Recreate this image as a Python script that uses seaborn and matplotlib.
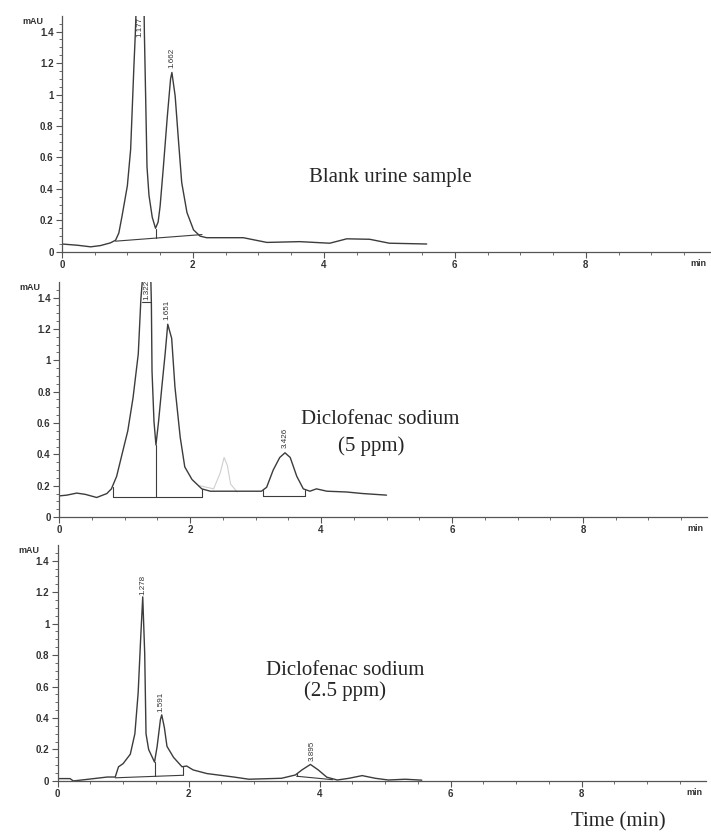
import numpy as np
import matplotlib
matplotlib.use("Agg")
import matplotlib.pyplot as plt
import seaborn as sns

# Chromatogram traces (time in min, signal in mAU)
t_blank = [0, 0.24, 0.44, 0.59, 0.74, 0.82, 0.87, 0.92, 1.0, 1.05, 1.07, 1.10, 1.12, 1.135, 1.19,
           1.255, 1.26, 1.28, 1.30, 1.33, 1.38, 1.43, 1.47, 1.50, 1.55, 1.61, 1.66, 1.68, 1.73, 1.78, 1.83,
           1.91, 2.01, 2.11, 2.21, 2.62, 2.77, 3.13, 3.63, 4.09, 4.35, 4.70, 5.0, 5.57]
a_blank = [0.05, 0.042, 0.032, 0.04, 0.057, 0.074, 0.12, 0.23, 0.42, 0.65, 0.86, 1.18, 1.37, 1.55, 1.8,
           1.55, 1.39, 0.97, 0.54, 0.36, 0.22, 0.15, 0.19, 0.29, 0.54, 0.86, 1.10, 1.14, 0.99, 0.71, 0.44,
           0.25, 0.14, 0.10, 0.09, 0.09, 0.09, 0.06, 0.065, 0.055, 0.083, 0.08, 0.055, 0.05]

t_5ppm = [0, 0.12, 0.27, 0.4, 0.575, 0.73, 0.80, 0.88, 0.95, 1.05, 1.13, 1.21, 1.25, 1.28, 1.33,
          1.40, 1.41, 1.42, 1.45, 1.48, 1.52, 1.57, 1.62, 1.66, 1.72, 1.77, 1.85, 1.92, 2.03, 2.18,
          2.31, 2.61, 3.09, 3.17, 3.27, 3.37, 3.45, 3.53, 3.63, 3.73, 3.83, 3.93, 4.09, 4.39, 4.64, 5.0]
a_5ppm = [0.135, 0.14, 0.153, 0.145, 0.125, 0.15, 0.18, 0.26, 0.38, 0.55, 0.76, 1.04, 1.39, 1.55, 1.7,
          1.55, 1.37, 0.93, 0.61, 0.46, 0.61, 0.83, 1.04, 1.23, 1.14, 0.83, 0.51, 0.32, 0.24, 0.18,
          0.165, 0.165, 0.165, 0.19, 0.30, 0.38, 0.41, 0.38, 0.26, 0.18, 0.165, 0.18, 0.165, 0.16, 0.15, 0.14]
# faint show-through peak on the 5 ppm scan
t_ghost = [2.15, 2.36, 2.46, 2.52, 2.57, 2.62, 2.72]
a_ghost = [0.2, 0.18, 0.28, 0.38, 0.33, 0.21, 0.16]

t_25ppm = [0, 0.19, 0.24, 0.45, 0.76, 0.88, 0.93, 1.0, 1.11, 1.18, 1.23, 1.27, 1.30, 1.33, 1.35,
           1.39, 1.48, 1.52, 1.57, 1.59, 1.63, 1.67, 1.77, 1.90, 1.97, 2.07, 2.28, 2.69, 2.92, 3.42,
           3.63, 3.73, 3.86, 3.98, 4.11, 4.27, 4.45, 4.65, 4.85, 5.05, 5.31, 5.56]
a_25ppm = [0.015, 0.015, 0.0, 0.01, 0.025, 0.025, 0.09, 0.11, 0.17, 0.30, 0.56, 0.92, 1.17, 0.81, 0.30,
           0.20, 0.12, 0.22, 0.39, 0.42, 0.34, 0.22, 0.15, 0.09, 0.095, 0.07, 0.047, 0.025, 0.011, 0.017,
           0.038, 0.07, 0.105, 0.07, 0.024, 0.006, 0.017, 0.034, 0.017, 0.006, 0.011, 0.005]

# integration baselines / drop lines: (x0, x1, y0, y1)
base_blank = [(0.82, 2.14, 0.068, 0.11), (1.44, 1.44, 0.145, 0.088)]
base_5ppm = [(0.82, 2.18, 0.13, 0.13), (0.82, 0.82, 0.13, 0.19), (2.18, 2.18, 0.13, 0.18),
             (1.48, 1.48, 0.46, 0.13), (3.11, 3.76, 0.135, 0.135), (3.11, 3.11, 0.135, 0.17),
             (3.76, 3.76, 0.135, 0.17), (1.27, 1.405, 1.37, 1.37)]
base_25ppm = [(0.88, 1.91, 0.02, 0.036), (1.48, 1.48, 0.12, 0.029), (1.91, 1.91, 0.09, 0.036),
              (3.65, 4.2, 0.03, 0.008), (3.65, 3.65, 0.05, 0.03)]

# retention time labels: (text, x, y, va)
peaks_blank = [("1.177", 1.19, 1.43, "center"), ("1.662", 1.68, 1.17, "bottom")]
peaks_5ppm = [("1.322", 1.345, 1.45, "center"), ("1.651", 1.65, 1.26, "bottom"), ("3.426", 3.45, 0.44, "bottom")]
peaks_25ppm = [("1.278", 1.31, 1.18, "bottom"), ("1.591", 1.58, 0.44, "bottom"), ("3.895", 3.88, 0.13, "bottom")]

ytick_vals = [0, 0.2, 0.4, 0.6, 0.8, 1.0, 1.2, 1.4]
ytick_labels = ["0", "0.2", "0.4", "0.6", "0.8", "1", "1.2", "1.4"]
xtick_vals = [0, 2, 4, 6, 8]

sns.set_style("white")
plt.rcParams["font.family"] = ["Liberation Sans", "DejaVu Sans"]

fig = plt.figure(figsize=(7.11, 8.34), dpi=100)

panels = [
    (t_blank, a_blank, base_blank, peaks_blank, [0.087, 0.698, 0.912, 0.283]),
    (t_5ppm, a_5ppm, base_5ppm, peaks_5ppm, [0.083, 0.380, 0.912, 0.282]),
    (t_25ppm, a_25ppm, base_25ppm, peaks_25ppm, [0.081, 0.0636, 0.912, 0.283]),
]

line_col = "#3c3c3c"
for i, (t, a, base, peaks, pos) in enumerate(panels):
    ax = fig.add_axes(pos)
    ax.set_facecolor("none")
    if i == 1:
        sns.lineplot(x=t_ghost, y=a_ghost, ax=ax, color="#cfcfcf", lw=0.8, sort=False, estimator=None)
    sns.lineplot(x=t, y=a, ax=ax, color=line_col, lw=1.0, sort=False, estimator=None)
    for x0, x1, y0, y1 in base:
        ax.plot([x0, x1], [y0, y1], color=line_col, lw=0.8)
    for txt, x, y, va in peaks:
        ax.text(x, y, txt, rotation=90, ha="center", va=va, fontsize=5.8, color="#333333")

    ax.set_xlim(0, 9.9)
    ax.set_ylim(0, 1.5)
    ax.set_yticks(ytick_vals)
    ax.set_yticklabels(ytick_labels)
    ax.set_yticks(np.arange(0, 1.5, 0.05), minor=True)
    ax.set_xticks(xtick_vals)
    ax.set_xticklabels([str(v) for v in xtick_vals])
    ax.set_xticks(np.arange(0, 9.9, 0.5), minor=True)
    ax.tick_params(which="major", length=4, width=0.8, color="#555555", labelsize=7,
                   labelcolor="#333333", pad=2, left=True, bottom=True)
    ax.tick_params(which="minor", length=2, width=0.6, color="#555555", left=True, bottom=True)
    for lbl in ax.get_xticklabels() + ax.get_yticklabels():
        lbl.set_fontweight("bold")
    for side in ["top", "right"]:
        ax.spines[side].set_visible(False)
    for side in ["left", "bottom"]:
        ax.spines[side].set_color("#555555")
        ax.spines[side].set_linewidth(0.9)
    ax.set_xlabel("")
    ax.set_ylabel("")
    ax.text(-0.045, 0.975, "mAU", transform=ax.transAxes, ha="center", va="center",
            fontsize=6.5, fontweight="bold", color="#333333")
    ax.text(9.6, -0.075, "min", ha="left", va="center", fontsize=6.5, fontweight="bold",
            color="#333333", clip_on=False)

serif = ["Liberation Serif", "DejaVu Serif"]
fig.text(390.5 / 711, 1 - 177.5 / 834, "Blank urine sample", ha="center", va="center", family=serif, fontsize=15)
fig.text(380 / 711, 1 - 420 / 834, "Diclofenac sodium", ha="center", va="center", family=serif, fontsize=15)
fig.text(371 / 711, 1 - 446.5 / 834, "(5 ppm)", ha="center", va="center", family=serif, fontsize=15)
fig.text(345.5 / 711, 1 - 670.5 / 834, "Diclofenac sodium", ha="center", va="center", family=serif, fontsize=15)
fig.text(344.5 / 711, 1 - 691.5 / 834, "(2.5 ppm)", ha="center", va="center", family=serif, fontsize=15)
fig.text(618 / 711, 1 - 822 / 834, "Time (min)", ha="center", va="center", family=serif, fontsize=15)

fig.savefig("out.png", dpi=100)
